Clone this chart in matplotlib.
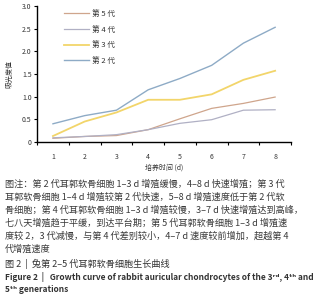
import matplotlib
matplotlib.use('Agg')
import matplotlib.pyplot as plt

plt.rcParams['font.family'] = ['Noto Sans CJK SC', 'DejaVu Sans']

# 培养时间 (d)
days = [1, 2, 3, 4, 5, 6, 7, 8]

# 吸光度值 for each generation
gen2 = [0.40, 0.58, 0.70, 1.15, 1.40, 1.69, 2.18, 2.53]
gen3 = [0.13, 0.45, 0.65, 0.93, 0.93, 1.05, 1.37, 1.57]
gen4 = [0.09, 0.12, 0.16, 0.27, 0.41, 0.49, 0.70, 0.71]
gen5 = [0.08, 0.12, 0.14, 0.27, 0.51, 0.74, 0.85, 0.99]

y_ticks = [0, 0.5, 1.0, 1.5, 2.0, 2.5, 3.0]
y_tick_labels = ['0', '0.5', '1.0', '1.5', '2.0', '2.5', '3.0']

caption_lines = [
    '图注：第 2 代耳郭软骨细胞 1–3 d 增殖缓慢，4–8 d 快速增殖；第 3 代',
    '耳郭软骨细胞 1–4 d 增殖较第 2 代快速，5–8 d 增殖速度低于第 2 代软',
    '骨细胞；第 4 代耳郭软骨细胞 1–3 d 增殖较慢，3–7 d 快速增殖达到高峰，',
    '七八天增殖趋于平缓，到达平台期；第 5 代耳郭软骨细胞 1–3 d 增殖速',
    '度较 2，3 代减慢，与第 4 代差别较小，4–7 d 速度较前增加，超越第 4',
    '代增殖速度',
]
title_cn = '图 2  |  兔第 2–5 代耳郭软骨细胞生长曲线'
title_en1 = 'Figure 2  |   Growth curve of rabbit auricular chondrocytes of the 3ʳᵈ, 4ᵗʰ and'
title_en2 = '5ᵗʰ generations'

fig = plt.figure(figsize=(3.17, 3.0), dpi=100)
ax = fig.add_axes([0.117, 0.527, 0.801, 0.453])

ax.plot(days, gen5, color='#cfa58c', lw=0.9, label='第 5 代')
ax.plot(days, gen4, color='#b0b0c4', lw=0.9, label='第 4 代')
ax.plot(days, gen3, color='#f2d56a', lw=1.3, label='第 3 代')
ax.plot(days, gen2, color='#8eabc6', lw=1.0, label='第 2 代')

ax.set_xlim(0.5, 8.5)
ax.set_ylim(0, 3.0)
ax.set_yticks(y_ticks)
ax.set_yticklabels(y_tick_labels)
ax.set_xticks(days)
ax.set_xticks([d + 0.5 for d in [0] + days], minor=True)
ax.tick_params(axis='x', which='major', length=0, labelsize=5, pad=8, colors='#333333')
ax.tick_params(axis='x', which='minor', length=2.5, width=0.8, direction='out')
ax.tick_params(axis='y', length=2.5, width=0.8, labelsize=5, pad=1.5, colors='#333333')
ax.tick_params(axis='both', color='black')

for s in ['top', 'right']:
    ax.spines[s].set_visible(False)
for s in ['left', 'bottom']:
    ax.spines[s].set_linewidth(1.0)

ax.set_xlabel('培养时间 (d)', fontsize=5, color='#333333', labelpad=2)
ax.set_ylabel('吸光度值', fontsize=5, color='#333333', labelpad=6)

ax.legend(loc='upper left', bbox_to_anchor=(0.08, 1.02), frameon=False,
          fontsize=5.5, handlelength=3.2, handletextpad=0.4, labelspacing=1.0,
          labelcolor='#333333')

y = 0.388
for line in caption_lines:
    fig.text(0.015, y, line, fontsize=6.6, color='#3a3a3a', va='center', ha='left')
    y -= 0.0435
fig.text(0.015, 0.12, title_cn, fontsize=6.6, color='#333333', va='center', ha='left')
fig.text(0.015, 0.077, title_en1, fontsize=6.0, color='#333333', va='center', ha='left',
         fontweight='bold')
fig.text(0.015, 0.035, title_en2, fontsize=6.0, color='#333333', va='center', ha='left',
         fontweight='bold')

fig.savefig('out.png', dpi=100)
